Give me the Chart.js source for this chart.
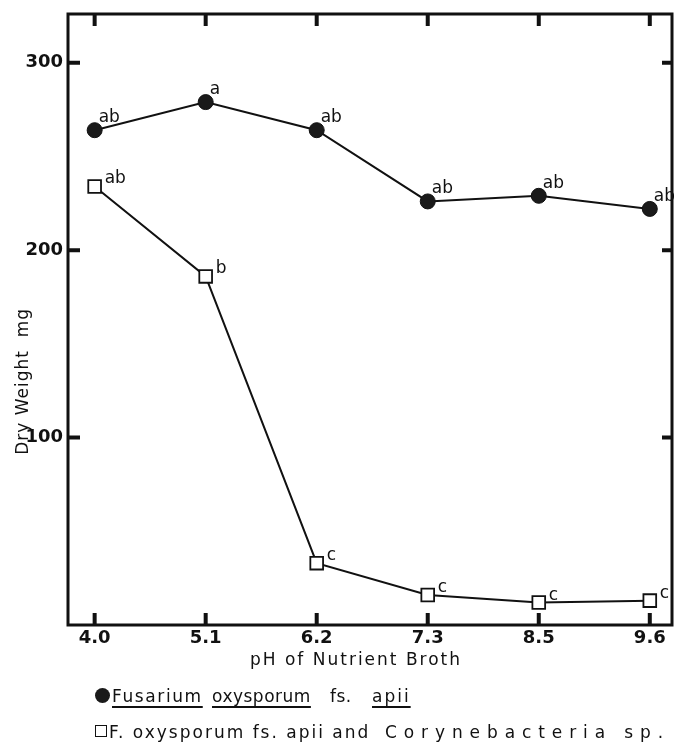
<!DOCTYPE html>
<html>
<head>
<meta charset="utf-8">
<script src="https://cdn.jsdelivr.net/npm/chart.js@4.4.1/dist/chart.umd.min.js"></script>
<style>
    html, body { margin: 0; padding: 0; background: #fff; overflow: hidden; }
    .wrap { position: relative; width: 674px; height: 745px; }
    .leg {
        position: absolute;
        font-family: 'DejaVu Sans', sans-serif;
        font-size: 17px;
        color: #111;
        white-space: pre;
        line-height: 20px;
    }
    .leg u { text-decoration-thickness: 2px; text-underline-offset: 4px; }
    .dot {
        position: absolute; left: 95px; top: 688px; width: 15px; height: 15px;
        border-radius: 50%; background: #1a1a1a;
    }
    .box {
        position: absolute; left: 95px; top: 725px; width: 10px; height: 10px;
        border: 1.5px solid #111;
    }
</style>
</head>
<body>
<div class="wrap">
    <canvas id="phChart"></canvas>
    <span class="dot"></span>
    <span class="leg" style="left:112px; top:686px; letter-spacing:1.6px"><u>Fusarium</u></span>
    <span class="leg" style="left:212px; top:686px; letter-spacing:0.5px"><u>oxysporum</u></span>
    <span class="leg" style="left:330px; top:686px; letter-spacing:0.5px">fs.</span>
    <span class="leg" style="left:372px; top:686px; letter-spacing:2px"><u>apii</u></span>
    <span class="box"></span>
    <span class="leg" style="left:109px; top:722px; letter-spacing:2px">F. oxysporum fs. apii and</span>
    <span class="leg" style="left:385px; top:722px; letter-spacing:6.9px">Corynebacteria sp.</span>
</div>
<script>
// pH of the broth, read along the bottom axis
const phLabels = ['4.0', '5.1', '6.2', '7.3', '8.5', '9.6'];
// dry weight (mg)
const fusariumOnly = [264, 279, 264, 226, 229, 222];
const withCorynebacteria = [234, 186, 33, 16, 12, 13];
// significance letters beside each point
const fusariumLetters = ['ab', 'a', 'ab', 'ab', 'ab', 'ab'];
const mixedLetters = ['ab', 'b', 'c', 'c', 'c', 'c'];
const yTickValues = [100, 200, 300];

const font = 'DejaVu Sans';

const framePlugin = {
    id: 'frameAndLetters',
    afterDatasetsDraw(chart) {
        const ctx = chart.ctx;
        const sets = [
            { index: 0, letters: fusariumLetters, dx: 4, dy: -8 },
            { index: 1, letters: mixedLetters, dx: 10, dy: -3 }
        ];
        ctx.save();
        ctx.fillStyle = '#111';
        ctx.font = `17px "${font}"`;
        ctx.textAlign = 'left';
        ctx.textBaseline = 'alphabetic';
        sets.forEach(set => {
            chart.getDatasetMeta(set.index).data.forEach((pt, i) => {
                ctx.fillText(set.letters[i], pt.x + set.dx, pt.y + set.dy);
            });
        });
        ctx.restore();
    },
    afterDraw(chart) {
        const { ctx, chartArea: area, scales } = chart;
        const x = scales.x;
        const y = scales.y;
        ctx.save();
        ctx.strokeStyle = '#111';
        ctx.lineWidth = 3;
        ctx.strokeRect(area.left, area.top, area.right - area.left, area.bottom - area.top);

        // inward tick marks on all four sides
        ctx.lineWidth = 4;
        ctx.beginPath();
        x.ticks.forEach(t => {
            const px = x.getPixelForValue(t.value);
            ctx.moveTo(px, area.bottom);
            ctx.lineTo(px, area.bottom - 12);
            ctx.moveTo(px, area.top);
            ctx.lineTo(px, area.top + 12);
        });
        y.ticks.forEach(t => {
            const py = y.getPixelForValue(t.value);
            ctx.moveTo(area.left, py);
            ctx.lineTo(area.left + 12, py);
            ctx.moveTo(area.right, py);
            ctx.lineTo(area.right - 10, py);
        });
        ctx.stroke();

        // axis titles
        ctx.fillStyle = '#111';
        ctx.font = `17px "${font}"`;
        ctx.textAlign = 'center';
        ctx.textBaseline = 'middle';
        ctx.letterSpacing = '2px';
        ctx.fillText('pH of Nutrient Broth', 356, 661);
        ctx.letterSpacing = '1px';
        ctx.translate(24, y.getPixelForValue(130));
        ctx.rotate(-Math.PI / 2);
        ctx.fillText('Dry Weight  mg', 0, 0);
        ctx.restore();
    }
};

new Chart(document.getElementById('phChart'), {
    type: 'line',
    data: {
        datasets: [
            {
                label: 'Fusarium oxysporum fs. apii',
                data: fusariumOnly.map((v, i) => ({ x: i, y: v })),
                borderColor: '#111',
                borderWidth: 2,
                pointStyle: 'circle',
                pointRadius: 7.5,
                pointBackgroundColor: '#1a1a1a',
                pointBorderColor: '#111',
                pointBorderWidth: 1
            },
            {
                label: 'F. oxysporum fs. apii and Corynebacteria sp.',
                data: withCorynebacteria.map((v, i) => ({ x: i, y: v })),
                borderColor: '#111',
                borderWidth: 2,
                pointStyle: 'rect',
                pointRadius: 9,
                pointBackgroundColor: '#fff',
                pointBorderColor: '#111',
                pointBorderWidth: 1.8
            }
        ]
    },
    options: {
        responsive: true,
        maintainAspectRatio: false,
        animation: false,
        layout: { autoPadding: false, padding: { top: 14, right: 2, left: 0, bottom: 0 } },
        plugins: {
            legend: { display: false },
            tooltip: { enabled: false }
        },
        scales: {
            x: {
                type: 'linear',
                min: -0.24,
                max: 5.2,
                afterBuildTicks: scale => {
                    scale.ticks = phLabels.map((_, i) => ({ value: i }));
                },
                afterFit: scale => {
                    scale.height = 120;
                    scale.paddingLeft = 0;
                    scale.paddingRight = 0;
                },
                ticks: {
                    color: '#111',
                    padding: 3,
                    maxRotation: 0,
                    font: { family: font, size: 18, weight: 'bold' },
                    callback: value => phLabels[value] ?? ''
                },
                grid: { display: false, drawTicks: false },
                border: { display: false }
            },
            y: {
                min: 0,
                max: 326,
                afterBuildTicks: scale => {
                    scale.ticks = yTickValues.map(v => ({ value: v }));
                },
                afterFit: scale => {
                    scale.width = 68;
                    scale.paddingTop = 0;
                    scale.paddingBottom = 0;
                },
                ticks: {
                    color: '#111',
                    padding: 5,
                    font: { family: font, size: 18, weight: 'bold' }
                },
                grid: { display: false, drawTicks: false },
                border: { display: false }
            }
        }
    },
    plugins: [framePlugin]
});
</script>
</body>
</html>
